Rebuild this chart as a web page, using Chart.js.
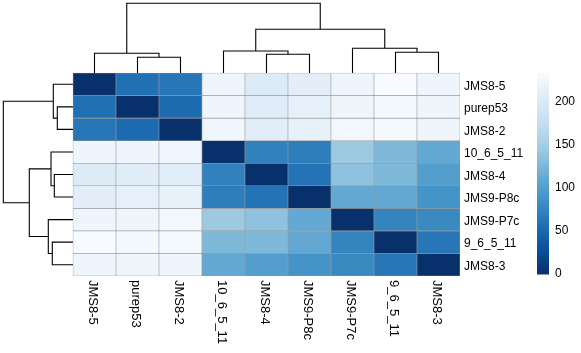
<!DOCTYPE html>
<html>
<head>
<meta charset="utf-8">
<script src="https://cdn.jsdelivr.net/npm/chart.js@4.4.1/dist/chart.umd.min.js"></script>
<style>
  html, body { margin: 0; padding: 0; background: #fff; }
  #wrap { width: 581px; height: 353px; }
</style>
</head>
<body>
<div id="wrap"><canvas id="chart" width="581" height="353"></canvas></div>
<script>
// Samples in dendrogram order (same for rows and columns)
const samples = ['JMS8-5', 'purep53', 'JMS8-2', '10_6_5_11', 'JMS8-4', 'JMS9-P8c', 'JMS9-P7c', '9_6_5_11', 'JMS8-3'];

// Distance matrix
const dist = [
  [0, 57, 63, 222, 203, 210, 222, 233, 222],
  [57, 0, 52, 222, 206, 213, 223, 227, 223],
  [63, 52, 0, 224, 207, 214, 226, 229, 222],
  [222, 222, 224, 0, 72, 70, 145, 128, 110],
  [203, 206, 207, 72, 0, 60, 137, 128, 100],
  [210, 213, 214, 70, 60, 0, 111, 110, 89],
  [222, 223, 226, 145, 137, 111, 0, 75, 80],
  [233, 227, 229, 128, 128, 110, 75, 0, 63],
  [222, 223, 222, 110, 100, 89, 80, 63, 0],
];

// hclust-style merges: negative = leaf (1-based), positive = earlier merge
const merges = [[-2, -3], [-1, 1], [-5, -6], [-4, 3], [-8, -9], [-7, 5], [4, 6], [2, 7]];
const mergeHeights = [15.7, 19.7, 18.7, 22.0, 20.7, 24.7, 43.7, 69.7];

const legendTicks = [0, 50, 100, 150, 200];
const blues = ['#08306B', '#08519C', '#2171B5', '#4292C6', '#6BAED6', '#9ECAE1', '#C6DBEF', '#DEEBF7', '#F7FBFF'];

// layout of the heatmap body (pixels)
const hm = { left: 73, top: 73, right: 460, bottom: 276 };
const cellW = (hm.right - hm.left) / samples.length;
const cellH = (hm.bottom - hm.top) / samples.length;
const FONT = '12px "Liberation Sans", Arial, sans-serif';
const COL_FONT = '13px "Liberation Sans", Arial, sans-serif';

const dataMax = Math.max.apply(null, dist.map(function (r) { return Math.max.apply(null, r); }));

function hexRgb(h) {
  return [parseInt(h.slice(1, 3), 16), parseInt(h.slice(3, 5), 16), parseInt(h.slice(5, 7), 16)];
}
function colorFor(v) {
  var t = Math.max(0, Math.min(1, v / dataMax)) * (blues.length - 1);
  var i = Math.min(Math.floor(t), blues.length - 2);
  var f = t - i;
  var a = hexRgb(blues[i]), b = hexRgb(blues[i + 1]);
  var c = a.map(function (x, k) { return Math.round(x + (b[k] - x) * f); });
  return 'rgb(' + c.join(',') + ')';
}

// one U-shape per merge: [pos, height] points
function treeSegments() {
  var nodes = [], segs = [];
  function node(id) { return id < 0 ? { p: -id - 0.5, h: 0 } : nodes[id - 1]; }
  merges.forEach(function (m, i) {
    var a = node(m[0]), b = node(m[1]), h = mergeHeights[i];
    segs.push([[a.p, a.h], [a.p, h], [b.p, h], [b.p, b.h]]);
    nodes.push({ p: (a.p + b.p) / 2, h: h });
  });
  return segs;
}

var datasets = [];

// heatmap rows as floating bars
dist.forEach(function (row, r) {
  datasets.push({
    type: 'bar',
    data: row.map(function (v, c) { return { x: c + 0.5, y: [r, r + 1] }; }),
    backgroundColor: row.map(colorFor),
    borderColor: '#9a9a9a',
    borderWidth: 0.6,
    borderSkipped: false,
    grouped: false,
    barPercentage: 1,
    categoryPercentage: 1,
  });
});

// dendrograms
var lineStyle = { type: 'scatter', showLine: true, borderColor: '#000', borderWidth: 1.1, pointRadius: 0, fill: false, tension: 0 };
treeSegments().forEach(function (seg) {
  datasets.push(Object.assign({}, lineStyle, {
    data: seg.map(function (pt) { return { x: pt[0], y: -pt[1] / cellH }; }),
  }));
  datasets.push(Object.assign({}, lineStyle, {
    data: seg.map(function (pt) { return { x: -pt[1] / cellW, y: pt[0] }; }),
  }));
});

const labelsPlugin = {
  id: 'heatLabels',
  afterDraw: function (chart) {
    var ctx = chart.ctx, xs = chart.scales.x, ys = chart.scales.y;
    var right = xs.getPixelForValue(samples.length);
    var bottom = ys.getPixelForValue(samples.length);
    var top = ys.getPixelForValue(0);
    ctx.save();
    ctx.font = FONT;
    ctx.fillStyle = '#000';
    ctx.textBaseline = 'middle';
    ctx.textAlign = 'left';
    samples.forEach(function (s, i) {
      ctx.fillText(s, right + 4, ys.getPixelForValue(i + 0.5) + 2);
    });
    ctx.font = COL_FONT;
    samples.forEach(function (s, i) {
      ctx.save();
      ctx.translate(xs.getPixelForValue(i + 0.5) - 1.5, bottom + 4);
      ctx.rotate(Math.PI / 2);
      ctx.fillText(s, 0, 0);
      ctx.restore();
    });

    // colour key
    ctx.font = FONT;
    var kx = 537, kw = 12, kTop = top, kBottom = 274;
    var n = 100, step = (kBottom - kTop) / n;
    for (var k = 0; k < n; k++) {
      ctx.fillStyle = colorFor(dataMax * (k + 0.5) / n);
      ctx.fillRect(kx, kBottom - (k + 1) * step, kw, step + 0.5);
    }
    ctx.fillStyle = '#000';
    legendTicks.forEach(function (t) {
      var py = kBottom - (t / dataMax) * (kBottom - kTop);
      ctx.fillText(String(t), kx + kw + 6, py);
    });
    ctx.restore();
  },
};

new Chart(document.getElementById('chart'), {
  type: 'bar',
  data: { datasets: datasets },
  options: {
    responsive: false,
    animation: false,
    events: [],
    layout: { padding: { left: 0, top: 0, right: 581 - hm.right, bottom: 353 - hm.bottom } },
    plugins: { legend: { display: false }, tooltip: { enabled: false } },
    scales: {
      x: { type: 'linear', display: false, offset: false, min: -hm.left / cellW, max: samples.length },
      y: { type: 'linear', display: false, reverse: true, min: -hm.top / cellH, max: samples.length, beginAtZero: false },
    },
  },
  plugins: [labelsPlugin],
});
</script>
</body>
</html>
